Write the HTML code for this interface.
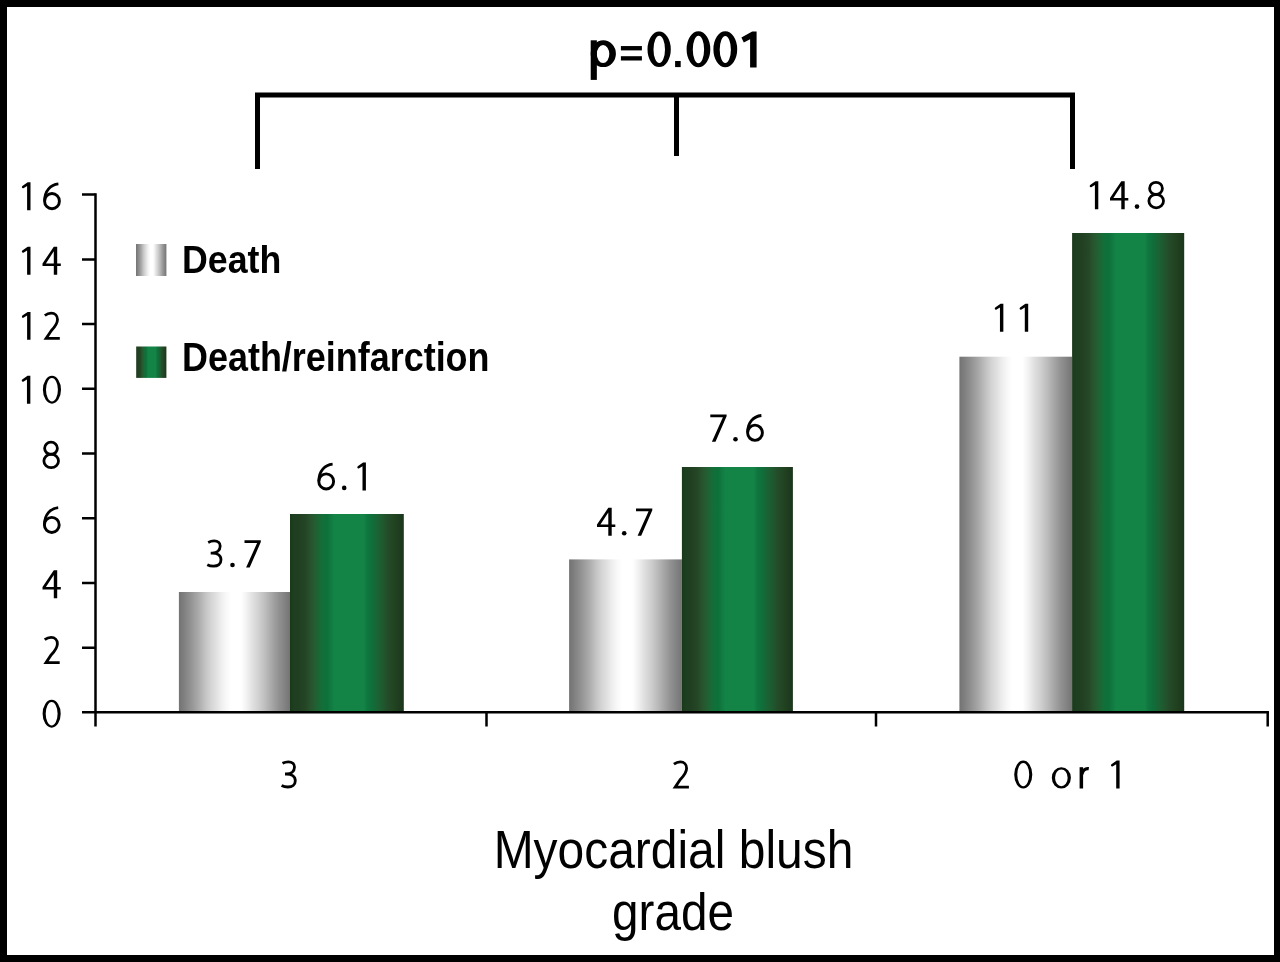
<!DOCTYPE html>
<html><head><meta charset="utf-8">
<style>
html,body{margin:0;padding:0;background:#000;}
body{width:1280px;height:962px;overflow:hidden;}
svg{display:block;}
text{font-family:"Liberation Sans",sans-serif;fill:#000;}
.tx{opacity:0.999}
</style></head>
<body>
<svg width="1280" height="962" viewBox="0 0 1280 962">
<defs>
<linearGradient id="gr" x1="0" y1="0" x2="1" y2="0">
<stop offset="0" stop-color="#737373"/>
<stop offset="0.04" stop-color="#7e7e7e"/>
<stop offset="0.12" stop-color="#979797"/>
<stop offset="0.18" stop-color="#acacac"/>
<stop offset="0.24" stop-color="#c4c4c4"/>
<stop offset="0.29" stop-color="#d5d5d5"/>
<stop offset="0.34" stop-color="#e2e2e2"/>
<stop offset="0.38" stop-color="#eeeeee"/>
<stop offset="0.42" stop-color="#f7f7f8"/>
<stop offset="0.45" stop-color="#fcfcfc"/>
<stop offset="0.47" stop-color="#ffffff"/>
<stop offset="0.56" stop-color="#ffffff"/>
<stop offset="0.61" stop-color="#f2f2f2"/>
<stop offset="0.66" stop-color="#e1e1e1"/>
<stop offset="0.72" stop-color="#d0d0d0"/>
<stop offset="0.78" stop-color="#bcbcbc"/>
<stop offset="0.84" stop-color="#a6a6a6"/>
<stop offset="0.9" stop-color="#919191"/>
<stop offset="0.95" stop-color="#838383"/>
<stop offset="1" stop-color="#747474"/>
</linearGradient>
<linearGradient id="gn" x1="0" y1="0" x2="1" y2="0">
<stop offset="0" stop-color="#1a381a"/>
<stop offset="0.03" stop-color="#1d3f1f"/>
<stop offset="0.08" stop-color="#213f22"/>
<stop offset="0.14" stop-color="#244726"/>
<stop offset="0.18" stop-color="#28522d"/>
<stop offset="0.22" stop-color="#235e32"/>
<stop offset="0.26" stop-color="#1a6836"/>
<stop offset="0.29" stop-color="#107039"/>
<stop offset="0.33" stop-color="#0e713a"/>
<stop offset="0.36" stop-color="#107b41"/>
<stop offset="0.39" stop-color="#138346"/>
<stop offset="0.65" stop-color="#138346"/>
<stop offset="0.68" stop-color="#0f763e"/>
<stop offset="0.72" stop-color="#0f6f3b"/>
<stop offset="0.76" stop-color="#196535"/>
<stop offset="0.81" stop-color="#1f5a2f"/>
<stop offset="0.86" stop-color="#244c2a"/>
<stop offset="0.92" stop-color="#22431f"/>
<stop offset="0.96" stop-color="#1e3c1f"/>
<stop offset="1" stop-color="#1b361b"/>
</linearGradient>
<g id="gl_1"><path d="M8.7,0 L5.3,0 L5.3,-24.2 L1.6,-22 Q0.5,-21.7 0.1,-22.9 Q-0.1,-23.9 0.9,-24.5 L5.9,-27.9 L8.7,-27.9 Z"/></g>
<g id="gl_0"><path fill-rule="evenodd" d="M0.0,-13.95 A9.05,13.95 0 1,0 18.1,-13.95 A9.05,13.95 0 1,0 0.0,-13.95 Z M3.1000000000000005,-13.95 A5.95,11.65 0 1,0 15.0,-13.95 A5.95,11.65 0 1,0 3.1000000000000005,-13.95 Z"/></g>
<g id="gl_2"><path d="M1.2,-24.3 C3.2,-25.8 5.4,-26.6 7.6,-26.6 C11.4,-26.6 13.9,-24.1 13.9,-20.3 C13.9,-16.3 11.6,-13.2 7.6,-9 L2.5,-1.4 L16.2,-1.4" fill="none" stroke="#000" stroke-width="2.8"/></g>
<g id="gl_3"><path d="M1.6,-25.2 C3.5,-26.2 5.5,-26.7 7.5,-26.7 C11.3,-26.7 13.6,-24.6 13.6,-21.6 C13.6,-17.2 10,-14.5 5.5,-14.5 L4.1,-14.5 M5.5,-14.5 C11,-14.5 14.4,-12 14.4,-7.8 C14.4,-3.5 11.3,-1.5 7,-1.5 C4.6,-1.5 2.4,-2.0 0.7,-2.9" fill="none" stroke="#000" stroke-width="2.8"/></g>
<g id="gl_4"><path fill-rule="evenodd" d="M11.3,-28 L14.7,-28 L14.7,-11.3 L18.3,-11.3 L18.3,-8.75 L14.7,-8.75 L14.7,0 L11.3,0 L11.3,-8.75 L0,-8.75 L0,-11.2 Z M3.4,-11.3 L11.3,-11.3 L11.3,-23.4 Z"/></g>
<g id="gl_6"><path d="M15.3,-26.3 C7.5,-25.5 1.55,-19.5 1.55,-9.5" fill="none" stroke="#000" stroke-width="2.8"/><ellipse cx="8.9" cy="-9.05" rx="7.4" ry="7.6" fill="none" stroke="#000" stroke-width="2.9"/></g>
<g id="gl_7"><path d="M0,-27.4 L16.3,-27.4 L16.3,-25.6 L5.2,0 L1.6,0 L12.6,-24.5 L0,-24.5 Z"/></g>
<g id="gl_8"><ellipse cx="8.5" cy="-20.8" rx="6.4" ry="6.1" fill="none" stroke="#000" stroke-width="2.8"/><ellipse cx="8.7" cy="-8.15" rx="7.3" ry="6.75" fill="none" stroke="#000" stroke-width="2.8"/></g>
<g id="gl_o"><path fill-rule="evenodd" d="M0.0,-10.65 A9.55,10.65 0 1,0 19.1,-10.65 A9.55,10.65 0 1,0 0.0,-10.65 Z M3.250000000000001,-10.65 A6.3,8.45 0 1,0 15.850000000000001,-10.65 A6.3,8.45 0 1,0 3.250000000000001,-10.65 Z"/></g>
<g id="gl_r"><path d="M0,-21.3 L3.5,-21.3 L3.5,0 L0,0 Z"/><path d="M2.2,-14.2 C3.4,-18.6 6,-20.2 9.2,-19.8" fill="none" stroke="#000" stroke-width="3.2"/></g>
<g id="gl_dot"><circle cx="2.3" cy="-2.6" r="2.3"/></g>
</defs>
<rect x="7" y="7" width="1267" height="948" fill="#fff"/>
<path d="M257.5 169 V95 H1072.5 V169" fill="none" stroke="#000" stroke-width="5"/>
<path d="M676.5 95 V156" fill="none" stroke="#000" stroke-width="5"/>
<rect x="178.9" y="592" width="111.1" height="120.4" fill="url(#gr)"/>
<rect x="290" y="514" width="113.8" height="198.4" fill="url(#gn)"/>
<rect x="569.1" y="559.4" width="112.8" height="153" fill="url(#gr)"/>
<rect x="681.9" y="467" width="111" height="245.4" fill="url(#gn)"/>
<rect x="959.4" y="356.7" width="112.7" height="355.7" fill="url(#gr)"/>
<rect x="1072.1" y="233" width="112.1" height="479.4" fill="url(#gn)"/>
<g stroke="#000" stroke-width="2.5" fill="none">
<path d="M95.5 193.35 V726.5"/>
<path d="M82 712.2 H1268.95"/>
<path d="M486.5 712 V726.5 M876 712 V726.5 M1267.7 712 V726.5"/>
<path d="M82 194.6 H95.5 M82 259.4 H95.5 M82 324.1 H95.5 M82 388.8 H95.5 M82 453.5 H95.5 M82 518.2 H95.5 M82 582.9 H95.5 M82 647.7 H95.5"/>
</g>
<rect x="136" y="244" width="30.4" height="32" fill="url(#gr)"/>
<rect x="136.2" y="346.5" width="30.2" height="31.4" fill="url(#gn)"/>
<g fill="#000">
<use href="#gl_1" transform="translate(21.8 210.2)"/>
<use href="#gl_6" transform="translate(43.1 210.2)"/>
<use href="#gl_1" transform="translate(21.8 274.7)"/>
<use href="#gl_4" transform="translate(42.5 274.7)"/>
<use href="#gl_1" transform="translate(21.8 339.8)"/>
<use href="#gl_2" transform="translate(43.6 339.8)"/>
<use href="#gl_1" transform="translate(21.65 403.7)"/>
<use href="#gl_0" transform="translate(42.9 403.7)"/>
<use href="#gl_8" transform="translate(42.5 469.1)"/>
<use href="#gl_6" transform="translate(42.9 534.0)"/>
<use href="#gl_4" transform="translate(42.5 598.3)"/>
<use href="#gl_2" transform="translate(43.5 664.0)"/>
<use href="#gl_0" transform="translate(42.6 727.7)"/>
<use href="#gl_3" transform="translate(206.6 567.6)"/>
<use href="#gl_dot" transform="translate(230.2 567.6)"/>
<use href="#gl_7" transform="translate(244.5 567.6)"/>
<use href="#gl_6" transform="translate(317.3 490.5)"/>
<use href="#gl_dot" transform="translate(341.9 490.5)"/>
<use href="#gl_1" transform="translate(357.2 490.5)"/>
<use href="#gl_4" transform="translate(597.0 535.8)"/>
<use href="#gl_dot" transform="translate(621.9 535.8)"/>
<use href="#gl_7" transform="translate(636.0 535.8)"/>
<use href="#gl_7" transform="translate(710.3 441.8)"/>
<use href="#gl_dot" transform="translate(733.2 441.8)"/>
<use href="#gl_6" transform="translate(746.1 441.8)"/>
<use href="#gl_1" transform="translate(994.65 331.7)"/>
<use href="#gl_1" transform="translate(1019.5 331.7)"/>
<use href="#gl_1" transform="translate(1089.6 209.2)"/>
<use href="#gl_4" transform="translate(1110.0 209.2)"/>
<use href="#gl_dot" transform="translate(1134.7 209.2)"/>
<use href="#gl_8" transform="translate(1147.5 209.2)"/>
<use href="#gl_3" transform="translate(280.9 788.5)"/>
<use href="#gl_2" transform="translate(672.7 788.5)"/>
<use href="#gl_0" transform="translate(1014.2 788.5)"/>
<use href="#gl_o" transform="translate(1051.8 788.5)"/>
<use href="#gl_r" transform="translate(1079.6 788.5)"/>
<use href="#gl_1" transform="translate(1110.9 788.5)"/>
</g>
<g class="tx"><g fill="#000">
<path fill-rule="evenodd" d="M590.70,53.70 A12.6,13.4 0 1,0 615.90,53.70 A12.6,13.4 0 1,0 590.70,53.70 Z M596.80,54.05 A6.25,9.05 0 1,0 609.30,54.05 A6.25,9.05 0 1,0 596.80,54.05 Z"/>
<rect x="590.7" y="40.3" width="6.15" height="39.6"/>
<rect x="620.9" y="46.05" width="21" height="4.35"/><rect x="620.9" y="56.2" width="21" height="4.3"/>
<path fill-rule="evenodd" d="M647.50,49.35 A11.65,17.75 0 1,0 670.80,49.35 A11.65,17.75 0 1,0 647.50,49.35 Z M653.50,49.45 A5.75,13.6 0 1,0 665.00,49.45 A5.75,13.6 0 1,0 653.50,49.45 Z"/>
<rect x="675.1" y="61.0" width="5.6" height="6.1"/>
<path fill-rule="evenodd" d="M686.60,49.20 A11.85,17.95 0 1,0 710.30,49.20 A11.85,17.95 0 1,0 686.60,49.20 Z M692.80,49.50 A5.65,13.6 0 1,0 704.10,49.50 A5.65,13.6 0 1,0 692.80,49.50 Z"/>
<path fill-rule="evenodd" d="M713.40,49.20 A11.9,17.95 0 1,0 737.20,49.20 A11.9,17.95 0 1,0 713.40,49.20 Z M719.70,49.50 A5.6,13.6 0 1,0 730.90,49.50 A5.6,13.6 0 1,0 719.70,49.50 Z"/>
<path d="M741.4,37.5 L752.2,31.4 L756.6,31.4 L756.6,67.5 L750.1,67.5 L750.1,39.3 L743.8,42.4 Z"/>
</g>
<text transform="translate(182.0 273.0) scale(0.9074 1)" x="0" y="0" text-anchor="start" style="font-size:39.41px;font-weight:bold;letter-spacing:0px">Death</text>
<text transform="translate(182.0 371.0) scale(0.9041 1)" x="0" y="0" text-anchor="start" style="font-size:39.76px;font-weight:bold;letter-spacing:0px">Death/reinfarction</text>
<text transform="translate(673.5 868.0) scale(0.8951 1)" x="0" y="0" text-anchor="middle" style="font-size:53.56px;font-weight:normal;letter-spacing:0px">Myocardial blush</text>
<text transform="translate(673.0 930.4) scale(0.9313 1)" x="0" y="0" text-anchor="middle" style="font-size:51.17px;font-weight:normal;letter-spacing:0px">grade</text></g>
</svg>
</body></html>
